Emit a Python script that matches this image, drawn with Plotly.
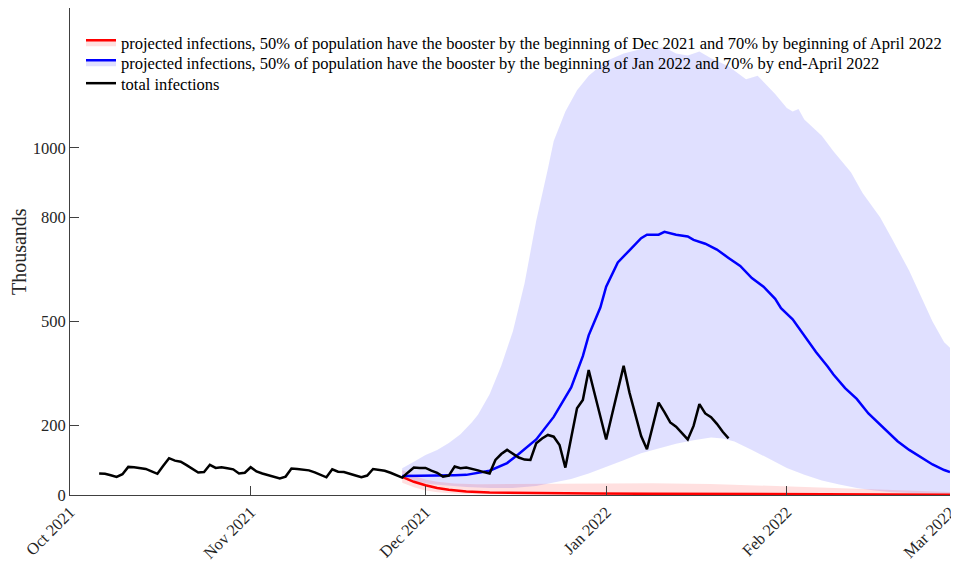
import pandas as pd
import plotly.graph_objects as go

# day offsets are counted from 1 Oct 2021
START = pd.Timestamp("2021-10-01")

# observed daily total infections (thousands), 6 Oct 2021 .. 22 Jan 2022
total_first_day = 5
total_infections = [
    62, 61, 57, 52, 60, 81, 80, 78, 75, 68, 61, 84, 106, 99, 96, 86, 75, 65, 66, 87,
    78, 80, 77, 74, 62, 64, 80, 68, 62, 58, 53, 48, 53, 76, 75, 74, 71, 65, 58, 51,
    74, 67, 66, 62, 56, 51, 56, 75, 72, 70, 64, 57, 50,
    65, 79, 78, 78, 70, 64, 53, 56, 82, 77, 79, 76, 71, 66, 62, 101, 118, 130, 118,
    108, 102, 101, 149, 163, 173, 168, 144, 79, 165, 250, 274, 360, 293, 227, 160,
    231, 302, 372, 295, 235, 170, 132, 199, 266, 239, 209, 197, 178, 160, 199, 262,
    235, 224, 205, 182, 163,
]

# scenario 2 (blue): central projection and band
blue_days = [57, 62, 66, 68, 70, 72, 75, 77, 80, 83, 86, 88, 89, 91, 92, 94, 96, 98, 99,
             100, 101, 102, 103, 104, 106, 107, 109, 111, 113, 115, 117, 119, 121, 122,
             124, 126, 128, 130, 131, 133, 135, 137, 139, 140, 142, 144, 146, 148, 150, 151]
blue_mid = [55, 55, 57, 58, 63, 70, 92, 118, 160, 225, 310, 400, 460, 540, 600, 670, 705,
            740, 750, 749, 750, 758, 754, 750, 745, 735, 724, 707, 683, 660, 625, 600, 565,
            538, 506, 458, 412, 370, 347, 308, 277, 235, 202, 185, 155, 130, 108, 88, 72, 66]

blue_hi_days = [57, 59, 61, 63, 65, 67, 69, 70, 72, 74, 76, 78, 80, 82, 83, 85, 87, 89, 92,
                95, 98, 102, 104, 106, 108, 110, 113, 116, 118, 119, 121, 123, 124, 125, 126,
                129, 131, 134, 136, 139, 141, 144, 146, 148, 150, 151]
blue_hi = [77, 96, 115, 130, 150, 175, 210, 231, 290, 372, 472, 610, 790, 940, 1020, 1105,
           1166, 1208, 1250, 1272, 1285, 1290, 1272, 1266, 1278, 1258, 1235, 1198, 1208, 1192,
           1155, 1115, 1105, 1112, 1082, 1035, 990, 930, 870, 800, 740, 646, 575, 500, 440, 424]

blue_lo_days = [57, 59, 62, 65, 68, 72, 76, 80, 83, 86, 89, 92, 95, 98, 101, 104, 107, 110,
                112, 114, 117, 120, 123, 126, 129, 132, 135, 138, 141, 145, 151]
blue_lo = [50, 40, 31, 26, 23, 20, 20, 26, 35, 46, 62, 80, 100, 120, 135, 148, 158, 166,
           163, 154, 130, 103, 78, 58, 42, 30, 20, 13, 8, 5, 2]

# scenario 1 (red): central projection and band
red_days = [57, 59, 61, 63, 65, 68, 72, 80, 90, 100, 110, 120, 130, 140, 151]
red_mid = [52, 38, 28, 20, 15, 10, 7, 5, 4, 3.5, 3, 2.5, 2, 1.5, 1]
red_band_days = [57, 59, 61, 63, 66, 70, 80, 90, 100, 110, 120, 130, 140, 151]
red_hi = [72, 56, 45, 38, 33, 31, 31, 33, 34, 32, 27, 21, 15, 9]
red_lo = [35, 22, 13, 8, 4, 2, 1, 0.5, 0.3, 0.2, 0.1, 0, 0, 0]

month_ticks = ["2021-10-01", "2021-11-01", "2021-12-01", "2022-01-01", "2022-02-01", "2022-03-01"]
y_ticks = [0, 200, 500, 800, 1000]

name_red = ("projected infections, 50% of population have the booster by the beginning of "
            "Dec 2021 and 70% by beginning of April 2022")
name_blue = ("projected infections, 50% of population have the booster by the beginning of "
             "Jan 2022 and 70% by end-April 2022")


def to_dates(days):
    return [START + pd.Timedelta(days=d) for d in days]


BLUE_FILL = "rgba(0,0,255,0.12)"
RED_FILL = "rgba(255,0,0,0.12)"
FONT = "Liberation Serif, Times New Roman, serif"

fig = go.Figure()


def add_band(days_lo, lo, days_hi, hi, color):
    x = to_dates(days_lo) + to_dates(days_hi)[::-1]
    y = list(lo) + list(hi)[::-1]
    fig.add_trace(go.Scatter(x=x, y=y, mode="lines", fill="toself", fillcolor=color,
                             line=dict(width=0), hoverinfo="skip", showlegend=False))


add_band(blue_lo_days, blue_lo, blue_hi_days, blue_hi, BLUE_FILL)
add_band(red_band_days, red_lo, red_band_days, red_hi, RED_FILL)

fig.add_trace(go.Scatter(x=to_dates(red_days), y=red_mid, mode="lines",
                         line=dict(color="#ff0000", width=2.5), showlegend=False))
fig.add_trace(go.Scatter(x=to_dates(blue_days), y=blue_mid, mode="lines",
                         line=dict(color="#0000ff", width=2.5), showlegend=False))
total_days = list(range(total_first_day, total_first_day + len(total_infections)))
fig.add_trace(go.Scatter(x=to_dates(total_days), y=total_infections, mode="lines",
                         line=dict(color="#000000", width=2.5), showlegend=False))

# legend entries (line drawn over its band colour), one legend box per row
fig.add_trace(go.Scatter(x=[None], y=[None], mode="lines", fill="toself", fillcolor=RED_FILL,
                         line=dict(color="#ff0000", width=2.5), name=name_red, legend="legend"))
fig.add_trace(go.Scatter(x=[None], y=[None], mode="lines", fill="toself", fillcolor=BLUE_FILL,
                         line=dict(color="#0000ff", width=2.5), name=name_blue, legend="legend2"))
fig.add_trace(go.Scatter(x=[None], y=[None], mode="lines",
                         line=dict(color="#000000", width=2.5), name="total infections",
                         legend="legend3"))

legend_style = dict(x=0.0125, xanchor="left", yanchor="top", bgcolor="rgba(0,0,0,0)",
                    font=dict(family=FONT, size=16.5, color="#000000"))

fig.update_layout(
    width=951,
    height=556,
    autosize=False,
    margin=dict(l=62, r=9, t=0, b=69),
    paper_bgcolor="white",
    plot_bgcolor="white",
    font=dict(family=FONT, size=16.5, color="#262626"),
    legend=dict(y=0.965, **legend_style),
    legend2=dict(y=0.924, **legend_style),
    legend3=dict(y=0.881, **legend_style),
    xaxis=dict(
        type="date",
        range=["2021-10-01", "2022-03-01"],
        tickvals=month_ticks,
        tickformat="%b %Y",
        tickangle=-45,
        ticks="inside",
        ticklen=9,
        tickcolor="#404040",
        showline=True,
        linecolor="#404040",
        linewidth=1,
        showgrid=False,
        zeroline=False,
        automargin=False,
    ),
    yaxis=dict(
        range=[0, 1403],
        tickvals=y_ticks,
        ticks="inside",
        ticklen=9,
        tickcolor="#404040",
        showline=True,
        linecolor="#404040",
        linewidth=1,
        showgrid=False,
        zeroline=False,
        automargin=False,
    ),
    annotations=[
        dict(text="Thousands", xref="paper", yref="paper", x=-0.0585, y=0.5,
             textangle=-90, showarrow=False, xanchor="center", yanchor="middle",
             font=dict(family=FONT, size=20, color="#262626")),
    ],
)

fig.write_html("out.html")
